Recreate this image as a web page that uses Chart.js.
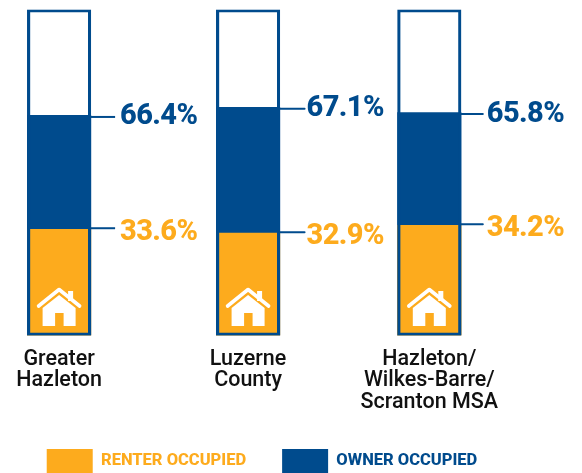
<!DOCTYPE html>
<html><head><meta charset="utf-8">
<style>html,body{margin:0;padding:0;background:#fff;overflow:hidden}#w{position:relative;width:582px;height:473px;overflow:hidden}canvas{display:block}</style>
<script src="https://cdn.jsdelivr.net/npm/chart.js@4"></script></head>
<body><div id="w"><canvas id="c" width="582" height="483"></canvas></div>
<script>
const categories = [["Greater","Hazleton"],["Luzerne","County"],["Hazleton/","Wilkes-Barre/","Scranton MSA"]];
const categorySlots = [0, 1.021, 2];
const renterLabels = ["33.6%","32.9%","34.2%"];
const ownerLabels = ["66.4%","67.1%","65.8%"];
const renterDrawn = [32.6, 31.4, 33.8];
const ownerDrawn = [67.5, 70.0, 68.4];
const frameTotal = [100, 100, 100];
const NAVY = "#004B8D", ORANGE = "#FDAB1D";
const pts = a => a.map((y,i)=>({x:categorySlots[i],y}));
const leaderLengths = [24.5, 25, 22];
const textGaps = [29.5, 27, 26];

const annot = {
  id:"annot",
  afterDatasetsDraw(ch){
    const {ctx,scales:{x,y}} = ch;
    const half = 31.5;
    ctx.save();
    categorySlots.forEach((s,i)=>{
      const cx = x.getPixelForValue(s), r = cx+half;
      [[ownerDrawn[i],ownerLabels[i],NAVY,1.5,-3],[renterDrawn[i],renterLabels[i],ORANGE,-1,1]].forEach(([v,t,col,dl,dy])=>{
        const py = y.getPixelForValue(v)+dl;
        ctx.strokeStyle = NAVY; ctx.lineWidth = 2;
        ctx.beginPath(); ctx.moveTo(r,py); ctx.lineTo(r+leaderLengths[i],py); ctx.stroke();
        ctx.fillStyle = col; ctx.font = "800 29px Roboto";
        ctx.letterSpacing = "-0.6px";
        ctx.textAlign="left"; ctx.textBaseline="alphabetic";
        ctx.fillText(t,r+textGaps[i],py+dy+10.5);
      });
      // house icon
      const by = y.getPixelForValue(0);
      const ox = cx, oy = by-47.5;
      ctx.strokeStyle="#fff"; ctx.fillStyle="#fff"; ctx.lineWidth=3.6; ctx.lineCap="round"; ctx.lineJoin="round";
      ctx.beginPath(); ctx.moveTo(ox-20.5,oy+18); ctx.lineTo(ox,oy+1.5); ctx.lineTo(ox+20.5,oy+18); ctx.stroke();
      ctx.fillRect(ox+9,oy+3,5,10);
      ctx.beginPath();
      ctx.moveTo(ox,oy+7); ctx.lineTo(ox+16.5,oy+20); ctx.lineTo(ox+16.5,oy+38);
      ctx.lineTo(ox+4.5,oy+38); ctx.lineTo(ox+4.5,oy+25); ctx.lineTo(ox-4,oy+25); ctx.lineTo(ox-4,oy+38);
      ctx.lineTo(ox-16.5,oy+38); ctx.lineTo(ox-16.5,oy+20); ctx.closePath(); ctx.fill();
    });
    ctx.restore();
  }
};

const cv = document.getElementById("c");
new Chart(cv,{
  type:"bar",
  data:{datasets:[
    {label:"Total",data:pts(frameTotal),backgroundColor:"rgba(0,0,0,0)",borderColor:NAVY,borderWidth:2.5,borderSkipped:false,order:0},
    {label:"RENTER OCCUPIED",data:pts(renterDrawn),backgroundColor:ORANGE,borderWidth:0,order:1},
    {label:"OWNER OCCUPIED",data:pts(ownerDrawn),backgroundColor:NAVY,borderWidth:0,order:2}
  ]},
  plugins:[annot],
  options:{
    responsive:false,animation:false,
    datasets:{bar:{grouped:false,barThickness:63.5}},
    layout:{padding:{top:9.5,left:0,right:58,bottom:0}},
    plugins:{
      tooltip:{enabled:false},
      legend:{position:"bottom",labels:{
        boxWidth:46,boxHeight:24,padding:36,
        font:{family:"Roboto",size:16.5,weight:"800"},
        generateLabels(ch){
          return ch.data.datasets.slice(1).map((d,i)=>({text:d.label,fillStyle:d.backgroundColor,strokeStyle:d.backgroundColor,lineWidth:0,fontColor:d.backgroundColor,datasetIndex:i+1}));
        }
      }}
    },
    scales:{
      x:{type:"linear",min:-0.3193,max:2.5116,offset:false,
        grid:{display:false},border:{display:false},
        afterBuildTicks(s){s.ticks=categorySlots.map(v=>({value:v}));},
        afterFit(s){s.height-=5;},
        ticks:{autoSkip:false,maxRotation:0,padding:5,color:"#111",
          font:{family:"Roboto",size:21.5,weight:"500",lineHeight:1},
          callback:(v,i)=>categories[i]}
      },
      y:{display:false,min:0,max:100}
    }
  }
});
</script></body></html>
